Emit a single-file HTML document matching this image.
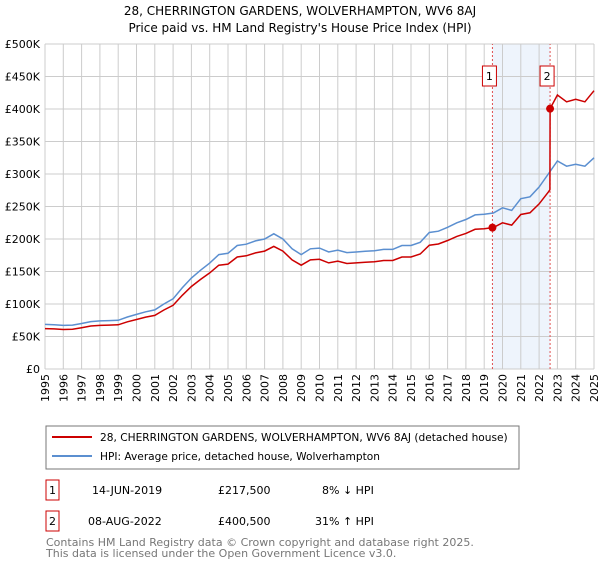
<!DOCTYPE html>
<html><head><meta charset="utf-8"><style>
body{margin:0;background:#fff;font-family:"Liberation Sans","DejaVu Sans",sans-serif;}
svg text{font-family:"DejaVu Sans","Liberation Sans",sans-serif;}
</style></head><body>
<svg id="c" width="600" height="560" viewBox="0 0 600 560" xmlns="http://www.w3.org/2000/svg">
<text x="300" y="15" text-anchor="middle" font-size="12" fill="#000">28, CHERRINGTON GARDENS, WOLVERHAMPTON, WV6 8AJ</text>
<text x="300" y="32" text-anchor="middle" font-size="12" fill="#000">Price paid vs. HM Land Registry's House Price Index (HPI)</text>
<g id="grid"></g><g id="series"></g><g id="axes"></g>
<rect x="46" y="426" width="473" height="43" fill="#fff" stroke="#777"/>
<line x1="52" y1="437" x2="92" y2="437" stroke="#cc0000" stroke-width="2"/>
<text x="100" y="441" font-size="10.6">28, CHERRINGTON GARDENS, WOLVERHAMPTON, WV6 8AJ (detached house)</text>
<line x1="52" y1="456" x2="92" y2="456" stroke="#5b8fd0" stroke-width="2"/>
<text x="100" y="460" font-size="10.6">HPI: Average price, detached house, Wolverhampton</text>
<rect x="46" y="480" width="13" height="20" fill="#fff" stroke="#cc0000"/>
<text x="52.5" y="494" font-size="11" text-anchor="middle">1</text>
<text x="92" y="494" font-size="11">14-JUN-2019</text>
<text x="218" y="494" font-size="11">£217,500</text>
<text x="322" y="494" font-size="11">8% ↓ HPI</text>
<rect x="46" y="511" width="13" height="20" fill="#fff" stroke="#cc0000"/>
<text x="52.5" y="525" font-size="11" text-anchor="middle">2</text>
<text x="88" y="525" font-size="11">08-AUG-2022</text>
<text x="218" y="525" font-size="11">£400,500</text>
<text x="315" y="525" font-size="11">31% ↑ HPI</text>
<text x="46" y="546" font-size="11" fill="#777">Contains HM Land Registry data © Crown copyright and database right 2025.</text>
<text x="46" y="557" font-size="11" fill="#777">This data is licensed under the Open Government Licence v3.0.</text>
</svg>
<script>
const hpiYears=[1995,1995.5,1996,1996.5,1997,1997.5,1998,1998.5,1999,1999.5,2000,2000.5,2001,2001.5,2002,2002.5,2003,2003.5,2004,2004.5,2005,2005.5,2006,2006.5,2007,2007.5,2008,2008.5,2009,2009.5,2010,2010.5,2011,2011.5,2012,2012.5,2013,2013.5,2014,2014.5,2015,2015.5,2016,2016.5,2017,2017.5,2018,2018.5,2019,2019.5,2020,2020.5,2021,2021.5,2022,2022.5,2023,2023.5,2024,2024.5,2025];
const hpiValues=[68.6,68,67,67.5,70,73,74,74.5,75,80,84,88,91,100,108,125,140,152,163,176,178,190,192,197,200,208,200,185,176,185,186,180,183,179,180,181,182,184,184,190,190,195,210,212,218,225,230,237,238,240,248,244,262,265,280,300,320,312,315,312,325];
const saleDates=[2019.45,2022.6];
const salePrices=[217.5,400.5];
const yTicks=[0,50,100,150,200,250,300,350,400,450,500];
const xTicks=[1995,1996,1997,1998,1999,2000,2001,2002,2003,2004,2005,2006,2007,2008,2009,2010,2011,2012,2013,2014,2015,2016,2017,2018,2019,2020,2021,2022,2023,2024,2025];
const NS="http://www.w3.org/2000/svg";
const X=y=>45+(y-1995)*(549/30), Y=v=>369-v*0.65;
function mk(t,a,p){const e=document.createElementNS(NS,t);for(const k in a)e.setAttribute(k,a[k]);document.getElementById(p).appendChild(e);return e;}
function hpiAt(t){for(let i=1;i<hpiYears.length;i++){if(t<=hpiYears[i]){const f=(t-hpiYears[i-1])/(hpiYears[i]-hpiYears[i-1]);return hpiValues[i-1]+f*(hpiValues[i]-hpiValues[i-1]);}}return hpiValues[hpiValues.length-1];}
let e=mk('rect',{x:X(saleDates[0]),y:Y(500),width:X(saleDates[1])-X(saleDates[0]),height:Y(0)-Y(500),fill:'#eef4fc'},'grid');


xTicks.forEach(t=>{let l=mk('line',{x1:X(t),x2:X(t),y1:Y(0),y2:Y(500),stroke:'#ccc','stroke-width':1},'grid');


let tx=mk('text',{x:0,y:0,'font-size':11,'text-anchor':'end',transform:'translate('+(X(t)+4)+',374) rotate(-90)'},'axes');tx.textContent=t;

});
yTicks.forEach(v=>{let l=mk('line',{x1:X(1995),x2:X(2025),y1:Y(v),y2:Y(v),stroke:'#ccc','stroke-width':1},'grid');


let tx=mk('text',{x:40,y:Y(v)+4,'font-size':11,'text-anchor':'end'},'axes');tx.textContent=v===0?'£0':'£'+v+'K';

});
saleDates.forEach((d,i)=>{let l=mk('line',{x1:X(d),x2:X(d),y1:Y(0),y2:Y(500),stroke:'#e05050','stroke-dasharray':'2,2','stroke-width':1},'grid');


let b=mk('rect',{x:X(d)-10,y:66,width:14,height:20,fill:'#fff',stroke:'#cc0000'},'axes');


let t=mk('text',{x:X(d)-3,y:80,'font-size':11,'text-anchor':'middle'},'axes');t.textContent=i+1;

});
let p=hpiYears.map((y,i)=>(i?'L':'M')+X(y).toFixed(1)+','+Y(hpiValues[i]).toFixed(1)).join('');
let h=mk('path',{d:p,fill:'none',stroke:'#5b8fd0','stroke-width':1.5},'series');


const r1=salePrices[0]/hpiAt(saleDates[0]), r2=salePrices[1]/hpiAt(saleDates[1]);
let pts=[];
hpiYears.forEach((y,i)=>{if(y<saleDates[1])pts.push([y,hpiValues[i]*r1]);});
pts.push([saleDates[1]-0.01,hpiAt(saleDates[1])*r1]);
pts.push([saleDates[1],salePrices[1]]);
hpiYears.forEach((y,i)=>{if(y>saleDates[1])pts.push([y,hpiValues[i]*r2]);});
let rp=mk('path',{d:pts.map((q,i)=>(i?'L':'M')+X(q[0]).toFixed(1)+','+Y(q[1]).toFixed(1)).join(''),fill:'none',stroke:'#cc0000','stroke-width':1.5},'series');


saleDates.forEach((d,i)=>{let c=mk('circle',{cx:X(d),cy:Y(salePrices[i]),r:4,fill:'#cc0000'},'series');

});
</script>
</body></html>
